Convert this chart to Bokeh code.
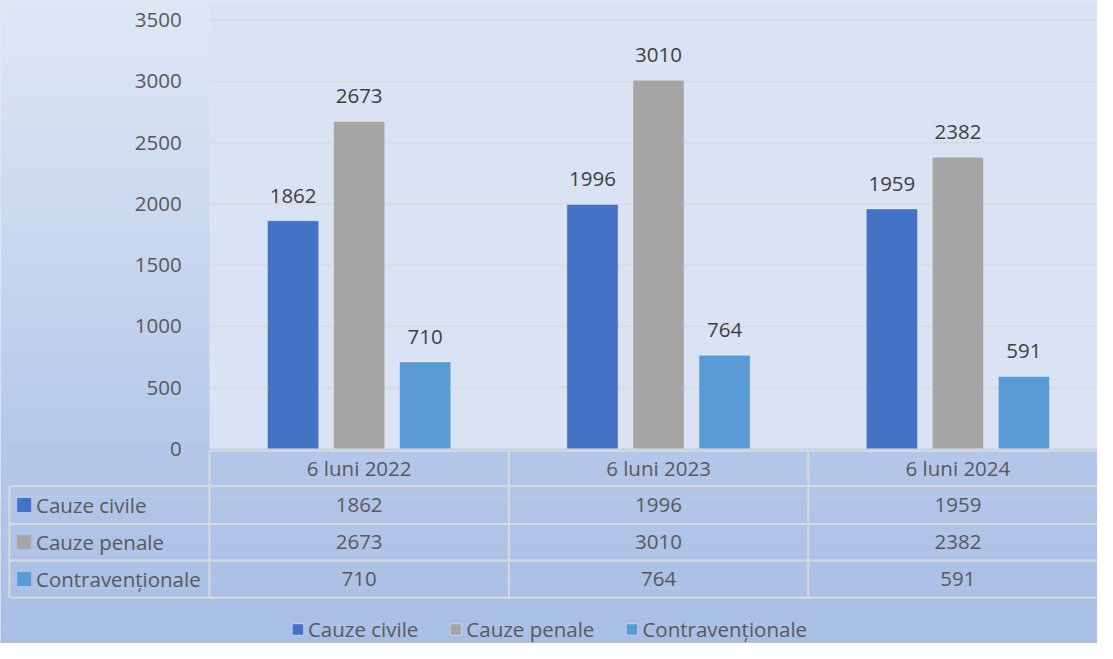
from bokeh.plotting import figure
from bokeh.models import Range1d, LinearAxis, FixedTicker, Legend, LegendItem, ColumnDataSource
from bokeh.core.properties import value
from bokeh.embed import file_html
from bokeh.resources import INLINE

# ---------------- data ----------------
CATEGORIES = ["6 luni 2022", "6 luni 2023", "6 luni 2024"]
SERIES = ["Cauze civile", "Cauze penale", "Contravenționale"]
cauze_civile = [1862, 1996, 1959]
cauze_penale = [2673, 3010, 2382]
contraventionale = [710, 764, 591]
Y_TICKS = [0, 500, 1000, 1500, 2000, 2500, 3000, 3500]

# ---------------- style ----------------
COLORS = ["#4472C4", "#A5A5A5", "#5B9BD5"]
FONT = value("Open Sans")
FS = "20.5px"
TXT = "#595959"
LBL = "#404040"
GRID = "#D9D9D9"
PLOT_BG = "#DAE3F3"

W, H = 1097, 643
# layout in reference pixels (1113 x 659 canvas)
REF_W, REF_H = 1113, 659
X0_PX, COL_PX = 212.0, 303.75      # plot-area left edge, category width
Y0_PX, Y_TOP_PX = 459.5, 20.2      # pixel of value 0 and value 3500
PX_PER_VAL = (Y0_PX - Y_TOP_PX) / 3500.0


def rx(px):
    return (px - X0_PX) / COL_PX


def ry(py):
    return (Y0_PX - py) / PX_PER_VAL


XMIN, XMAX = rx(0), rx(REF_W)
YMIN, YMAX = ry(REF_H), ry(0)

p = figure(width=W, height=H, output_backend="svg", toolbar_location=None,
           x_range=Range1d(XMIN, XMAX), y_range=Range1d(YMIN, YMAX),
           x_axis_location=None, y_axis_location=None, min_border=0)
p.outline_line_color = None
p.grid.visible = False
p.background_fill_color = "#C8D6EE"
p.border_fill_color = "#C8D6EE"

# ---------------- background gradient ----------------
def lerp(c1, c2, t):
    return tuple(int(round(a + (b - a) * t)) for a, b in zip(c1, c2))

stops = [(0, (223, 231, 245)), (230, (203, 217, 239)), (460, (180, 199, 234)), (659, (169, 190, 229))]
N = 70
tops, bots, cols = [], [], []
for i in range(N):
    a = REF_H * i / N
    b = REF_H * (i + 1) / N
    m = (a + b) / 2
    for (s0, c0), (s1, c1) in zip(stops[:-1], stops[1:]):
        if s0 <= m <= s1:
            c = lerp(c0, c1, (m - s0) / (s1 - s0))
            break
    tops.append(ry(a))
    bots.append(ry(b))
    cols.append("#%02x%02x%02x" % c)
p.quad(left=XMIN, right=XMAX, top=tops, bottom=bots, fill_color=cols, line_color=None)

# plot area
p.quad(left=0, right=XMAX, bottom=0, top=YMAX, fill_color=PLOT_BG, line_color=None)

# gridlines at tick values (except 0, which is the table top)
gy = [t for t in Y_TICKS if t > 0]
p.segment(x0=[0] * len(gy), x1=[XMAX] * len(gy), y0=gy, y1=gy, line_color=GRID, line_width=1.5)

# ---------------- bars ----------------
xc = [i + 0.5 for i in range(len(CATEGORIES))]
offsets = [-67 / COL_PX, 0, 67 / COL_PX]
bar_w = 52 / COL_PX
renderers = []
for s, vals, col, off in zip(SERIES, [cauze_civile, cauze_penale, contraventionale], COLORS, offsets):
    src = ColumnDataSource(dict(x=[x + off for x in xc], top=vals, lab=[str(v) for v in vals]))
    r = p.vbar(x="x", top="top", width=bar_w, bottom=0, source=src, fill_color=col,
               line_color="white", line_alpha=0.35, line_width=1)
    renderers.append(r)
    p.text(x="x", y="top", text="lab", source=src, text_font=FONT, text_font_size=FS,
           text_color=LBL, text_align="center", text_baseline="middle", y_offset=-25)

# ---------------- y axis ----------------
yax = LinearAxis(fixed_location=rx(196), ticker=FixedTicker(ticks=Y_TICKS))
yax.axis_line_color = None
yax.major_tick_line_color = None
yax.minor_tick_line_color = None
yax.major_label_standoff = 6
yax.major_label_text_font = "Open Sans"
yax.major_label_text_font_size = FS
yax.major_label_text_color = TXT
p.add_layout(yax, "left")

# ---------------- data table ----------------
hdr_top, row_edges = ry(461.5), [ry(497.5), ry(536.5), ry(574), ry(612)]
left_px = 9
# horizontal lines
p.segment(x0=[0], x1=[XMAX], y0=[hdr_top], y1=[hdr_top], line_color=GRID, line_width=2)
p.segment(x0=[rx(left_px)] * 4, x1=[XMAX] * 4, y0=row_edges, y1=row_edges, line_color=GRID, line_width=2)
# vertical lines
p.segment(x0=[rx(left_px)], x1=[rx(left_px)], y0=[row_edges[0]], y1=[row_edges[-1]], line_color=GRID, line_width=2)
vx = [0, 1, 2]
p.segment(x0=vx, x1=vx, y0=[hdr_top] * 3, y1=[row_edges[-1]] * 3, line_color=GRID, line_width=2)

# header texts
p.text(x=xc, y=[(hdr_top + row_edges[0]) / 2] * 3, text=CATEGORIES, text_font=FONT,
       text_font_size=FS, text_color=TXT, text_align="center", text_baseline="middle")
row_c = [(a + b) / 2 for a, b in zip(row_edges[:-1], row_edges[1:])]
for yc, s, vals, col in zip(row_c, SERIES, [cauze_civile, cauze_penale, contraventionale], COLORS):
    p.rect(x=[rx(24)], y=[yc], width=14, height=14, width_units="screen", height_units="screen",
           fill_color=col, line_color=None)
    p.text(x=[rx(36)], y=[yc], text=[s], text_font=FONT, text_font_size=FS, text_color=TXT,
           text_align="left", text_baseline="middle")
    p.text(x=xc, y=[yc] * 3, text=[str(v) for v in vals], text_font=FONT, text_font_size=FS,
           text_color=TXT, text_align="center", text_baseline="middle")

# ---------------- legend ----------------
legend = Legend(items=[LegendItem(label=s, renderers=[r]) for s, r in zip(SERIES, renderers)],
                orientation="horizontal", location="bottom_center",
                label_text_font="Open Sans", label_text_font_size=FS, label_text_color=TXT,
                glyph_width=14, glyph_height=14, label_standoff=4, spacing=30,
                padding=0, margin=0, background_fill_alpha=0, border_line_alpha=0)
p.add_layout(legend, "center")

open("out.html", "w").write(file_html(p, INLINE))
